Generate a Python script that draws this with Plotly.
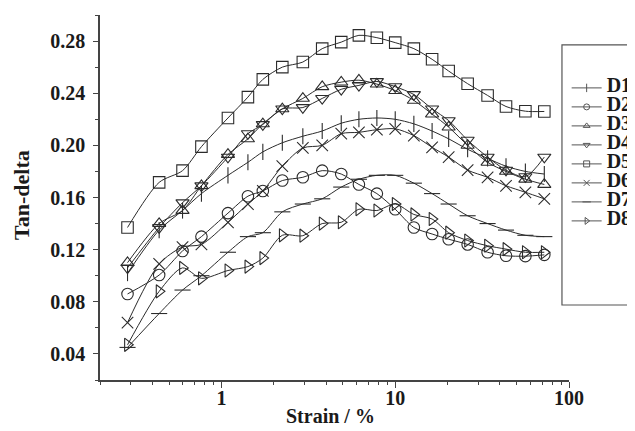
import plotly.graph_objects as go

strain = [0.288, 0.438, 0.597, 0.767, 1.09, 1.42, 1.73, 2.24, 2.94, 3.80, 4.89,
          6.18, 7.84, 10.0, 12.8, 16.3, 20.3, 26.1, 34.0, 43.4, 56.1, 72.1]

D1 = [0.102, 0.135, 0.150, 0.163, 0.177, 0.187, 0.195, 0.202, 0.207, 0.211, 0.217,
      0.220, 0.221, 0.220, 0.2165, 0.211, 0.205, 0.197, 0.190, 0.184, 0.180, 0.178]
D2 = [0.086, 0.1005, 0.119, 0.130, 0.148, 0.161, 0.165, 0.173, 0.1755, 0.1806, 0.178,
      0.170, 0.163, 0.151, 0.137, 0.132, 0.128, 0.124, 0.118, 0.1153, 0.115, 0.116]
D3 = [0.110, 0.140, 0.150, 0.169, 0.193, 0.205, 0.2165, 0.228, 0.236, 0.245, 0.2485,
      0.250, 0.247, 0.242, 0.2345, 0.224, 0.214, 0.200, 0.187, 0.180, 0.174, 0.170]
D4 = [0.106, 0.137, 0.156, 0.169, 0.191, 0.209, 0.216, 0.228, 0.229, 0.236, 0.243,
      0.246, 0.249, 0.245, 0.239, 0.228, 0.219, 0.204, 0.191, 0.181, 0.176, 0.191]
D5 = [0.137, 0.1716, 0.1806, 0.199, 0.221, 0.237, 0.2506, 0.260, 0.2639, 0.2742, 0.2792,
      0.2844, 0.2826, 0.2788, 0.2742, 0.266, 0.257, 0.2473, 0.2383, 0.2298, 0.2262, 0.226]
D6 = [0.064, 0.109, 0.122, 0.124, 0.141, 0.155, 0.165, 0.184, 0.198, 0.200, 0.209,
      0.210, 0.212, 0.2127, 0.2075, 0.1985, 0.191, 0.181, 0.1755, 0.169, 0.164, 0.159]
D7 = [0.045, 0.071, 0.089, 0.100, 0.118, 0.130, 0.133, 0.149, 0.155, 0.159, 0.168,
      0.174, 0.177, 0.177, 0.171, 0.163, 0.155, 0.146, 0.140, 0.135, 0.131, 0.130]
D8 = [0.047, 0.088, 0.106, 0.098, 0.104, 0.107, 0.1135, 0.131, 0.1307, 0.140, 0.141,
      0.151, 0.150, 0.155, 0.147, 0.1435, 0.133, 0.127, 0.123, 0.1204, 0.118, 0.118]

names = ["D1", "D2", "D3", "D4", "D5", "D6", "D7", "D8"]
series = [D1, D2, D3, D4, D5, D6, D7, D8]
symbols = ["line-ns", "circle-open", "triangle-up-open", "triangle-down-open",
           "square-open", "x-thin", "line-ew", "triangle-right-open"]

x_major = [1, 10, 100]
x_minor = [0.2, 0.3, 0.4, 0.5, 0.6, 0.7, 0.8, 0.9, 2, 3, 4, 5, 6, 7, 8, 9,
           20, 30, 40, 50, 60, 70, 80, 90]

x_title = "Strain / %"
y_title = "Tan-delta"

INK = "#2b2b2b"
TXT = "#1a1a1a"
FONT = "Liberation Serif"

fig = go.Figure()
for name, ys, sym in zip(names, series, symbols):
    fig.add_trace(go.Scatter(
        x=strain, y=ys, mode="lines+markers", name=name, showlegend=False,
        line=dict(color=INK, width=1, shape="spline", smoothing=0.8),
        marker=dict(symbol=sym, size=11.5, color=INK, line=dict(color=INK, width=1.1)),
    ))

# legend entries (small markers, as in the reference legend)
for name, sym in zip(names, symbols):
    fig.add_trace(go.Scatter(
        x=[None], y=[None], mode="lines+markers",
        name='<span style="font-size:20px"><b>%s</b></span>' % name,
        line=dict(color="#555555", width=1),
        marker=dict(symbol=sym, size=6, color="#555555", line=dict(color="#555555", width=1)),
    ))

# the page adds an 8px body margin, so the figure is 8px smaller than the window
fig.update_layout(
    width=627, height=423,
    margin=dict(l=92, r=66, t=7, b=51, autoexpand=False),
    paper_bgcolor="white", plot_bgcolor="white",
    font=dict(family=FONT, color=TXT),
    showlegend=True,
    legend=dict(x=0.995, xanchor="left", y=0.84, yanchor="top",
                font=dict(size=10.5, family=FONT, color=TXT),
                bgcolor="rgba(0,0,0,0)", borderwidth=0, tracegroupgap=0,
                itemclick=False),
    shapes=[dict(type="rect", xref="paper", yref="paper", x0=0.985, x1=1.3,
                 y0=0.2055, y1=0.918, line=dict(color="#555555", width=1.2))],
    annotations=[
        dict(text="<b>%s</b>" % x_title, xref="paper", yref="paper", x=0.4925, y=0,
             xanchor="center", yanchor="middle", yshift=-36, showarrow=False,
             font=dict(size=20, family=FONT, color=TXT)),
        dict(text="<b>%s</b>" % y_title, xref="paper", yref="paper", x=0, y=0.507,
             xanchor="center", yanchor="middle", xshift=-78, textangle=-90,
             showarrow=False, font=dict(size=22, family=FONT, color=TXT)),
    ],
)

fig.update_xaxes(
    type="log", range=[-0.69897, 2.0],
    tickmode="array", tickvals=x_major, ticktext=["1", "10", "100"],
    ticks="outside", ticklen=6, tickwidth=1.2, tickcolor="#444",
    ticklabelstandoff=-7,
    minor=dict(tickmode="array", tickvals=x_minor, ticks="outside", ticklen=3,
               tickwidth=1, tickcolor="#444", showgrid=False),
    showline=True, linecolor="#444", linewidth=1.5, showgrid=False, zeroline=False,
    tickfont=dict(size=20, family=FONT, color=TXT, weight="bold"),
)
fig.update_yaxes(
    range=[0.02, 0.30], tick0=0, dtick=0.04, tickformat=".2f",
    ticks="outside", ticklen=5, tickwidth=1.2, tickcolor="#444",
    ticklabelstandoff=4,
    minor=dict(dtick=0.02, tick0=0, ticks="outside", ticklen=3, tickwidth=1,
               tickcolor="#444", showgrid=False),
    showline=True, linecolor="#444", linewidth=1.5, showgrid=False, zeroline=False,
    tickfont=dict(size=20, family=FONT, color=TXT, weight="bold"),
)

fig.write_html("out.html")
